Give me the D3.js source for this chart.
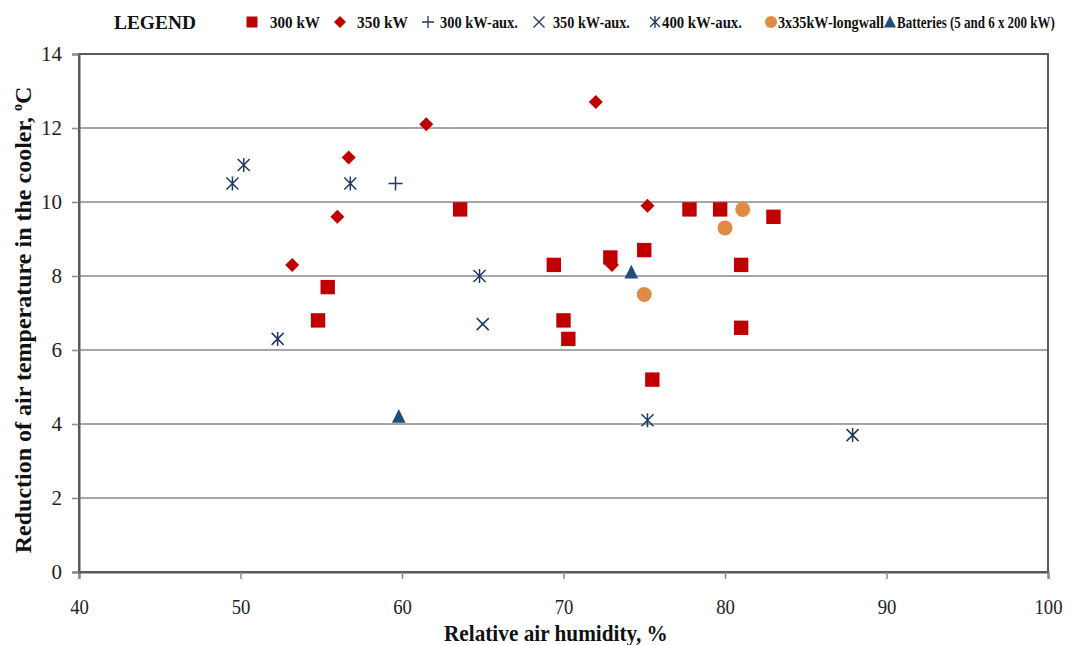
<!DOCTYPE html>
<html><head><meta charset="utf-8">
<script src="https://cdn.jsdelivr.net/npm/d3@7"></script>
<style>body{margin:0;background:#fff;} svg{display:block;} text{font-family:"Liberation Serif","Times New Roman",serif !important;}</style>
</head><body>
<svg id="chart" width="1072" height="645"></svg>
<script>
const xTicks = [40, 50, 60, 70, 80, 90, 100];
const yTicks = [0, 2, 4, 6, 8, 10, 12, 14];

const s300kW = [[54.8,6.8],[55.4,7.7],[63.6,9.8],[69.4,8.3],[70.0,6.8],[70.3,6.3],[72.9,8.5],[75.0,8.7],[75.5,5.2],[77.8,9.8],[79.7,9.8],[81.0,8.3],[81.0,6.6],[83.0,9.6]];
const s350kW = [[53.2,8.3],[56.0,9.6],[56.7,11.2],[61.5,12.1],[72.0,12.7],[75.2,9.9],[73.0,8.3]];
const s300aux = [[59.6,10.5]];
const s350aux = [[65.0,6.7]];
const s400aux = [[49.5,10.5],[50.2,11.0],[52.3,6.3],[56.8,10.5],[64.8,8.0],[75.2,4.1],[87.9,3.7]];
const sLongwall = [[75.0,7.5],[80.0,9.3],[81.1,9.8]];
const sBatteries = [[74.2,8.1],[59.8,4.2]];

const legendLabels = ["300 kW","350 kW","300 kW-aux.","350 kW-aux.","400 kW-aux.","3x35kW-longwall","Batteries (5 and 6 x 200 kW)"];

const svg = d3.select("#chart");
const L = 79, R = 1048, T = 54, B = 572;
const x = d3.scaleLinear().domain([40,100]).range([L,R]);
const y = d3.scaleLinear().domain([0,14]).range([B,T]);

// fit a text horizontally to [x0,x1] by scaling (baseline at yb)
function fitText(sel, x0, x1, yb){
  const w = sel.node().getComputedTextLength();
  const sx = (x1 - x0) / w;
  sel.attr("x",0).attr("y",0).attr("transform",`translate(${x0},${yb}) scale(${sx},1)`);
}

// gridlines
svg.append("g").selectAll("line").data(yTicks.filter(d=>d>0&&d<14)).join("line")
  .attr("x1",L).attr("x2",R).attr("y1",d=>y(d)).attr("y2",d=>y(d))
  .attr("stroke","#a6a6a6").attr("stroke-width",2);

// frame
svg.append("rect").attr("x",L).attr("y",T).attr("width",R-L).attr("height",B-T)
  .attr("fill","none").attr("stroke","#5a5a5a").attr("stroke-width",2);

// axes
const xAxis = svg.append("g").attr("transform",`translate(0,${B})`)
  .call(d3.axisBottom(x).tickValues(xTicks).tickSize(7).tickPadding(19));
const yAxis = svg.append("g").attr("transform",`translate(${L},0)`)
  .call(d3.axisLeft(y).tickValues(yTicks).tickSize(7).tickPadding(10));
[xAxis,yAxis].forEach(a=>{
  a.attr("font-family",null).attr("font-size",null);
  a.select(".domain").attr("stroke","#5a5a5a").attr("stroke-width",2);
  a.selectAll(".tick line").attr("stroke","#8a8a8a").attr("stroke-width",1.5);
  a.selectAll(".tick text").attr("fill","#222");
});
yAxis.selectAll(".tick text").style("font-size","21px");
xAxis.selectAll(".tick text").style("font-size","22px").attr("transform","scale(0.85,1)");

// axis titles
const xt = svg.append("text").style("font-size","24px").attr("font-weight","bold").attr("fill","#111")
  .text("Relative air humidity, %");
fitText(xt, 444, 668, 641);
const yt = svg.append("text").attr("transform","translate(31,320) rotate(-90)").attr("text-anchor","middle")
  .attr("font-weight","bold").style("font-size","24px").attr("fill","#111");
yt.append("tspan").text("Reduction of air temperature in the cooler, ");
yt.append("tspan").attr("dy",-9).style("font-size","14px").text("o");
yt.append("tspan").attr("dy",9).text("C");

const red = "#c00000", navy = "#1f3864", orange = "#df8a45", blue = "#1f4e79";
function squarePath(s){ return `M${-s},${-s}H${s}V${s}H${-s}Z`; }
function diamondPath(s){ return `M0,${-s}L${s},0L0,${s}L${-s},0Z`; }
function trianglePath(s){ return `M0,${-s*1.1}L${s},${s*0.9}L${-s},${s*0.9}Z`; }
function circlePath(r){ return `M${r},0A${r},${r} 0 1,1 ${-r},0A${r},${r} 0 1,1 ${r},0Z`; }
function crossPath(s){ return `M${-s},0L${s},0M0,${-s}L0,${s}`; }
function xPath(s){ return `M${-s},${-s}L${s},${s}M${-s},${s}L${s},${-s}`; }
function starPath(s){ return xPath(s)+`M0,${-s-1}L0,${s+1}`; }

function drawFilled(data, path, color){
  svg.append("g").selectAll("path").data(data).join("path")
    .attr("transform",d=>`translate(${x(d[0])},${y(d[1])})`)
    .attr("d",path).attr("fill",color);
}
function drawStroke(data, path, color){
  svg.append("g").selectAll("path").data(data).join("path")
    .attr("transform",d=>`translate(${x(d[0])},${y(d[1])})`)
    .attr("d",path).attr("fill","none").attr("stroke",color).attr("stroke-width",1.5);
}
drawStroke(s400aux, starPath(6), navy);
drawStroke(s350aux, xPath(6), navy);
drawStroke(s300aux, crossPath(7), navy);
drawFilled(sLongwall, circlePath(7.5), orange);
drawFilled(s300kW, squarePath(7.2), red);
drawFilled(s350kW, diamondPath(7), red);
drawFilled(sBatteries, trianglePath(6.8), blue);

// legend
const lg = svg.append("text").attr("font-weight","bold").style("font-size","19px").attr("fill","#111").text("LEGEND");
fitText(lg, 114, 196, 29);
const legItems = [
  {mx:252, t0:270, t1:320, type:"square"},
  {mx:340, t0:357, t1:408, type:"diamond"},
  {mx:428, t0:440, t1:518, type:"cross"},
  {mx:539, t0:553, t1:630, type:"x"},
  {mx:655, t0:662, t1:742, type:"star"},
  {mx:771, t0:778, t1:884, type:"circle"},
  {mx:890, t0:897, t1:1055, type:"triangle"}
];
const ly = 22;
legItems.forEach((it,i)=>{
  const g = svg.append("g").attr("transform",`translate(${it.mx},${ly})`);
  if(it.type==="square") g.append("path").attr("d",squarePath(5.5)).attr("fill",red);
  if(it.type==="diamond") g.append("path").attr("d",diamondPath(6)).attr("fill",red);
  if(it.type==="cross") g.append("path").attr("d",crossPath(6)).attr("stroke",navy).attr("stroke-width",1.3).attr("fill","none");
  if(it.type==="x") g.append("path").attr("d",xPath(5.5)).attr("stroke",navy).attr("stroke-width",1.3).attr("fill","none");
  if(it.type==="star") g.append("path").attr("d",starPath(5)).attr("stroke",navy).attr("stroke-width",1.3).attr("fill","none");
  if(it.type==="circle") g.append("path").attr("d",circlePath(6)).attr("fill",orange);
  if(it.type==="triangle") g.append("path").attr("d",trianglePath(6)).attr("fill",blue);
  const t = svg.append("text").attr("font-weight","bold").style("font-size","17px").attr("fill","#111")
    .text(legendLabels[i]);
  fitText(t, it.t0, it.t1, ly+6);
});
</script>
</body></html>
